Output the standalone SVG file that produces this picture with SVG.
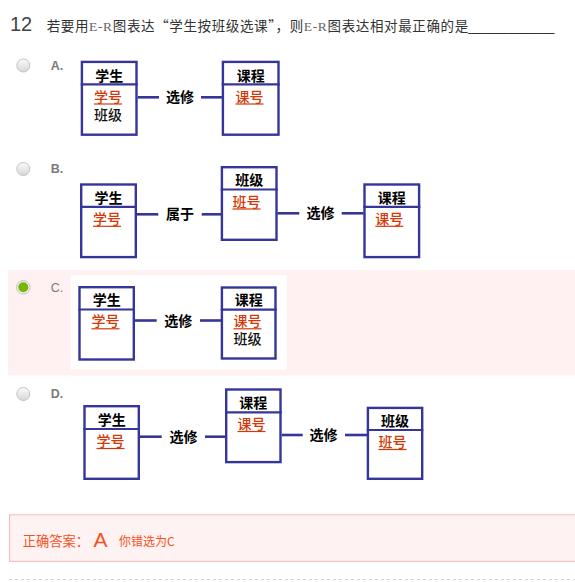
<svg xmlns="http://www.w3.org/2000/svg" width="575" height="582" viewBox="0 0 575 582">
<defs>
<linearGradient id="rg" x1="0" y1="0" x2="0" y2="1">
<stop offset="0" stop-color="#fbfbfb"/>
<stop offset="1" stop-color="#d6d6d6"/>
</linearGradient>
<style>
.box{fill:#fff;stroke:#35359a;stroke-width:2.4}
.hl{stroke:#35359a;stroke-width:2.2}
.cn{stroke:#35359a;stroke-width:2.6}
.t{font-family:"Noto Sans CJK SC","Liberation Sans",sans-serif;font-size:14px;text-anchor:middle}
.h{font-weight:bold;fill:#000}
.k{fill:#d13a08;font-weight:500}
.ul{stroke:#d13a08;stroke-width:1.2}
.a{fill:#111;font-weight:500}
.rel{font-weight:bold;fill:#000}
.radio{fill:url(#rg);stroke:#c4c4c4;stroke-width:1}
.opt{font-family:"Liberation Sans",Arial,sans-serif;font-size:12.5px;fill:#7a7a7a;font-weight:bold}
.ans{fill:#f4511e;font-family:"Noto Sans CJK SC","Liberation Sans",sans-serif}
</style>
</defs>
<rect width="575" height="582" fill="#fff"/>

<g id="question">
<text x="10" y="30.7" font-family="Liberation Sans,Arial,sans-serif" font-size="20" fill="#444">12</text>
<text x="46.7" y="30.5" font-family="Noto Sans CJK SC,sans-serif" font-size="13.5" fill="#333" textLength="421.5" lengthAdjust="spacing">若要用<tspan font-family="Liberation Serif,serif" fill="#666">E-R</tspan>图表达“学生按班级选课”，则<tspan font-family="Liberation Serif,serif" fill="#666">E-R</tspan>图表达相对最正确的是</text>
<text x="468.3" y="30.5" font-family="Liberation Sans,sans-serif" font-size="13.5" fill="#333" textLength="86" lengthAdjust="spacingAndGlyphs">___________</text>
</g>

<!-- pink highlight for chosen option C -->
<rect x="8" y="270" width="567" height="105.5" fill="#fff1f1"/>
<rect x="70.7" y="275.3" width="216" height="94.4" fill="#fff"/>

<g id="options">
<circle class="radio" cx="23.3" cy="65.5" r="6.5"/>
<text class="opt" x="50.7" y="70">A.</text>
<circle class="radio" cx="23.3" cy="169" r="6.5"/>
<text class="opt" x="50.7" y="173">B.</text>
<circle cx="23.3" cy="287.3" r="6.8" fill="#f0f0f0" stroke="#c4c4c4" stroke-width="1"/>
<circle cx="23.3" cy="287.3" r="5" fill="#78b600"/>
<text class="opt" x="50.7" y="291.7" style="font-weight:normal">C.</text>
<circle class="radio" cx="23.3" cy="394" r="6.5"/>
<text class="opt" x="50.7" y="397.5">D.</text>
</g>

<!-- Option A -->
<g id="A-student">
<rect class="box" x="81.9" y="61.9" width="54.6" height="72.8"/>
<line class="hl" x1="80.7" y1="84.4" x2="137.7" y2="84.4"/>
<text class="t h" x="109.2" y="80.5">学生</text>
<text class="t k" x="108" y="101.5">学号</text>
<line class="ul" x1="94" y1="104" x2="122" y2="104"/>
<text class="t a" x="108" y="119.5">班级</text>
</g>
<g id="A-course">
<rect class="box" x="222.9" y="61.9" width="55.6" height="72.8"/>
<line class="hl" x1="221.7" y1="84.4" x2="279.7" y2="84.4"/>
<text class="t h" x="250.7" y="80.5">课程</text>
<text class="t k" x="249.5" y="101.5">课号</text>
<line class="ul" x1="235.5" y1="104" x2="263.5" y2="104"/>
</g>

<!-- Option B -->
<g id="B-student">
<rect class="box" x="81.2" y="184.5" width="54.6" height="72.6"/>
<line class="hl" x1="80" y1="206.8" x2="137" y2="206.8"/>
<text class="t h" x="108.5" y="202.5">学生</text>
<text class="t k" x="107" y="223.8">学号</text>
<line class="ul" x1="93" y1="226.3" x2="121" y2="226.3"/>
</g>
<g id="B-class">
<rect class="box" x="221.9" y="167.2" width="54.6" height="72.6"/>
<line class="hl" x1="220.7" y1="189.5" x2="277.7" y2="189.5"/>
<text class="t h" x="249.2" y="185.2">班级</text>
<text class="t k" x="246.5" y="206.5">班号</text>
<line class="ul" x1="232.5" y1="209" x2="260.5" y2="209"/>
</g>
<g id="B-course">
<rect class="box" x="364.5" y="184.5" width="54.6" height="72.6"/>
<line class="hl" x1="363.3" y1="206.8" x2="420.3" y2="206.8"/>
<text class="t h" x="391.8" y="202.5">课程</text>
<text class="t k" x="389.3" y="223.8">课号</text>
<line class="ul" x1="375.3" y1="226.3" x2="403.3" y2="226.3"/>
</g>

<!-- Option C -->
<g id="C-student">
<rect class="box" x="79.5" y="287.2" width="54.3" height="72.3"/>
<line class="hl" x1="78.3" y1="309.5" x2="135" y2="309.5"/>
<text class="t h" x="106.7" y="305">学生</text>
<text class="t k" x="105.5" y="326.3">学号</text>
<line class="ul" x1="91.5" y1="328.8" x2="119.5" y2="328.8"/>
</g>
<g id="C-course">
<rect class="box" x="221.9" y="287.5" width="53.6" height="71"/>
<line class="hl" x1="220.7" y1="309.7" x2="276.7" y2="309.7"/>
<text class="t h" x="248.7" y="304.7">课程</text>
<text class="t k" x="247.5" y="326.3">课号</text>
<line class="ul" x1="233.5" y1="328.8" x2="261.5" y2="328.8"/>
<text class="t a" x="247.5" y="343.5">班级</text>
</g>

<!-- Option D -->
<g id="D-student">
<rect class="box" x="84.5" y="406.2" width="54.3" height="72.6"/>
<line class="hl" x1="83.3" y1="429" x2="140" y2="429"/>
<text class="t h" x="111.7" y="424.5">学生</text>
<text class="t k" x="110.5" y="446">学号</text>
<line class="ul" x1="96.5" y1="448.5" x2="124.5" y2="448.5"/>
</g>
<g id="D-course">
<rect class="box" x="226.2" y="389.5" width="54.3" height="72.6"/>
<line class="hl" x1="225" y1="412.3" x2="281.7" y2="412.3"/>
<text class="t h" x="253.3" y="407.8">课程</text>
<text class="t k" x="251.5" y="429">课号</text>
<line class="ul" x1="237.5" y1="431.5" x2="265.5" y2="431.5"/>
</g>
<g id="D-class">
<rect class="box" x="367.9" y="407.9" width="54.3" height="70.9"/>
<line class="hl" x1="366.7" y1="430" x2="423.3" y2="430"/>
<text class="t h" x="395" y="425.5">班级</text>
<text class="t k" x="392.5" y="447">班号</text>
<line class="ul" x1="378.5" y1="449.5" x2="406.5" y2="449.5"/>
</g>

<g id="connectors">
<line class="cn" x1="137.7" y1="97.3" x2="159" y2="97.3"/>
<line class="cn" x1="201" y1="97.3" x2="222" y2="97.3"/>
<text class="t rel" x="180" y="102.3">选修</text>

<line class="cn" x1="137" y1="214.3" x2="158.3" y2="214.3"/>
<line class="cn" x1="201.7" y1="214.3" x2="221" y2="214.3"/>
<text class="t rel" x="180" y="219.3">属于</text>
<line class="cn" x1="277.3" y1="213.3" x2="299.3" y2="213.3"/>
<line class="cn" x1="341.7" y1="213.3" x2="363.6" y2="213.3"/>
<text class="t rel" x="320.5" y="218.3">选修</text>

<line class="cn" x1="135" y1="320.5" x2="156.7" y2="320.5"/>
<line class="cn" x1="200" y1="320.5" x2="221" y2="320.5"/>
<text class="t rel" x="178.3" y="325.5">选修</text>

<line class="cn" x1="140" y1="436.7" x2="161.7" y2="436.7"/>
<line class="cn" x1="205" y1="436.7" x2="225.3" y2="436.7"/>
<text class="t rel" x="183.5" y="441.7">选修</text>
<line class="cn" x1="281.7" y1="435" x2="302.7" y2="435"/>
<line class="cn" x1="345" y1="435" x2="367" y2="435"/>
<text class="t rel" x="323.5" y="440">选修</text>
</g>

<g id="answer">
<rect x="9.5" y="514.8" width="570" height="46.5" fill="#fff2f2" stroke="#f4b8b8" stroke-width="1"/>
<text class="ans" x="22.7" y="546" font-size="13.3">正确答案：</text>
<text x="93.5" y="547" font-family="Liberation Sans,Arial,sans-serif" font-size="21" fill="#f4511e">A</text>
<text class="ans" x="119" y="546" font-size="12">你错选为C</text>
</g>
<line x1="9" y1="579.5" x2="575" y2="579.5" stroke="#d0d0d0" stroke-width="1" stroke-dasharray="3,3"/>
</svg>
